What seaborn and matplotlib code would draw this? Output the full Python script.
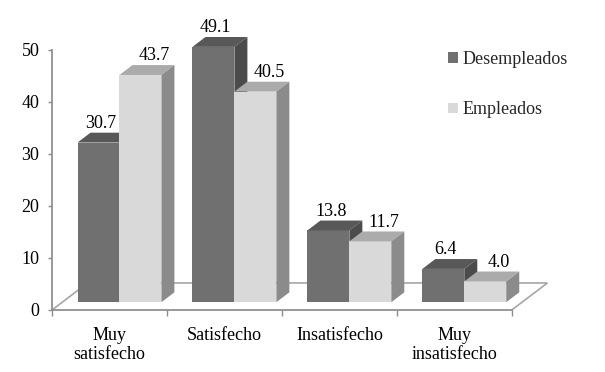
import matplotlib
matplotlib.use("Agg")
import matplotlib.pyplot as plt
from matplotlib.patches import Polygon
import pandas as pd
import seaborn as sns

categorias = ["Muy\nsatisfecho", "Satisfecho", "Insatisfecho", "Muy\ninsatisfecho"]
grupos = ["Desempleados", "Empleados"]
desempleados = [30.7, 49.1, 13.8, 6.4]
empleados = [43.7, 40.5, 11.7, 4.0]
y_ticks = [0, 10, 20, 30, 40, 50]

# colores: cara frontal, cara superior, cara lateral
COL_FRONT = ["#707070", "#d9d9d9"]
COL_TOP = ["#585858", "#ababab"]
COL_SIDE = ["#4b4b4b", "#8b8b8b"]
AXIS_GRAY = "#8c8c8c"
FS = 13

# efecto 3D (en unidades de datos)
BASE = 1.5            # altura de la base frontal de las barras
SHIFT = 0.087         # desplazamiento de las barras por la perspectiva
DX, DY = 0.113, 1.9   # profundidad de las barras
FDX, FDY = 0.31, 5.2  # profundidad del suelo

sns.set_theme(style="white")
plt.rcParams["font.family"] = ["Liberation Serif", "DejaVu Serif"]
plt.rcParams["font.size"] = FS

df = pd.DataFrame({
    "categoria": categorias * 2,
    "grupo": [grupos[0]] * 4 + [grupos[1]] * 4,
    "valor": desempleados + empleados,
})

fig = plt.figure(figsize=(6.05, 3.72), dpi=100)
ax = fig.add_axes([52 / 605, 62 / 372, 500 / 605, 286 / 372])

sns.barplot(data=df, x="categoria", y="valor", hue="grupo", palette=COL_FRONT,
            saturation=1, width=0.73, linewidth=0, ax=ax, legend=True)

# suelo
ax.add_patch(Polygon([(-0.5, 0), (-0.5 + FDX, FDY), (3.5 + FDX, FDY), (3.5, 0)],
                     closed=False, fill=False, edgecolor="#a6a6a6", lw=1.2, zorder=1))

label_dx = [0.02, 0.12]
for i, cont in enumerate(ax.containers):
    z = 2 + i
    for p, v in zip(cont.patches, cont.datavalues):
        x0, w, h = p.get_x() + SHIFT, p.get_width(), p.get_height()
        p.set_x(x0)
        p.set_y(BASE)
        p.set_zorder(z)
        p.set_clip_on(False)
        top = [(x0, BASE + h), (x0 + DX, BASE + h + DY),
               (x0 + w + DX, BASE + h + DY), (x0 + w, BASE + h)]
        side = [(x0 + w, BASE), (x0 + w + DX, BASE + DY),
                (x0 + w + DX, BASE + h + DY), (x0 + w, BASE + h)]
        ax.add_patch(Polygon(top, closed=True, facecolor=COL_TOP[i], lw=0, zorder=z, clip_on=False))
        ax.add_patch(Polygon(side, closed=True, facecolor=COL_SIDE[i], lw=0, zorder=z, clip_on=False))
        ax.text(x0 + w / 2 + label_dx[i], v + 4.3, f"{v:.1f}", ha="center", va="baseline",
                fontsize=FS, color="black", zorder=10)

ax.set_xlim(-0.5, 3.85)
ax.set_ylim(0, 55)
ax.set_xlabel("")
ax.set_ylabel("")

for s in ["top", "right"]:
    ax.spines[s].set_visible(False)
ax.spines["left"].set_color(AXIS_GRAY)
ax.spines["bottom"].set_color(AXIS_GRAY)
ax.spines["left"].set_bounds(0, 50)
ax.spines["bottom"].set_bounds(-0.5, 3.5)

ax.set_yticks(y_ticks)
ax.set_yticklabels([str(t) for t in y_ticks])
ax.tick_params(axis="y", left=True, length=3, width=1, color=AXIS_GRAY, pad=6,
               labelsize=FS, labelcolor="black")
ax.set_xticks([-0.5, 0.5, 1.5, 2.5, 3.5])
ax.set_xticklabels([""] * 5)
ax.set_xticks([0, 1, 2, 3], minor=True)
ax.set_xticklabels(categorias, minor=True)
ax.tick_params(axis="x", which="major", bottom=True, length=4, width=1, color=AXIS_GRAY)
ax.tick_params(axis="x", which="minor", bottom=True, length=0, pad=12,
               labelsize=FS, labelcolor="black")

handles, labels = ax.get_legend_handles_labels()
ax.legend(handles, labels, loc="upper left", bbox_to_anchor=(448 / 605, 1 - 51 / 372),
          bbox_transform=fig.transFigure, frameon=False, borderpad=0, borderaxespad=0,
          handlelength=0.55, handleheight=0.55, handletextpad=0.25, labelspacing=1.85,
          fontsize=FS)

fig.savefig("out.png", dpi=100)
